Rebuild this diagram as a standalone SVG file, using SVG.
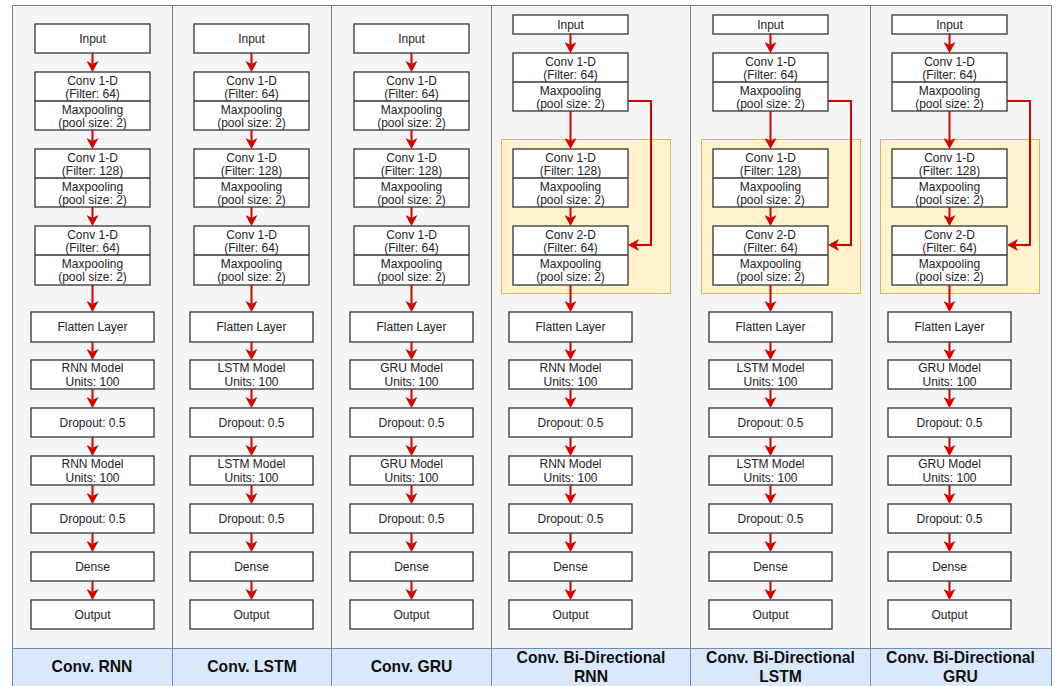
<svg xmlns="http://www.w3.org/2000/svg" width="1057" height="686" viewBox="0 0 1057 686">
<style>
.bg{fill:#ffffff}
.col{fill:#f5f5f5;stroke:#808080;stroke-width:1}
.hdr{fill:#dae8fc;stroke:#6c8ebf;stroke-width:1}
.grp{fill:#fff2cc;stroke:#d6b656;stroke-width:1}
.box{fill:#ffffff;stroke:#333333;stroke-width:1.3}
.div{stroke:#333333;stroke-width:1.3}
.t{font-family:"Liberation Sans",Arial,sans-serif;font-size:12px;fill:#222222;text-anchor:middle}
.h{font-family:"Liberation Sans",Arial,sans-serif;font-size:15.7px;font-weight:bold;fill:#111111;text-anchor:middle}
.a{stroke:#d40000;stroke-width:2;fill:none;marker-end:url(#ah)}
</style>
<defs>
<marker id="ah" markerUnits="userSpaceOnUse" markerWidth="11" markerHeight="12" viewBox="0 0 11 12" refX="3" refY="6" orient="auto"><path d="M0,0 L11,6 L0,12 L3,6 z" fill="#d40000"/></marker>
</defs>
<rect class="bg" x="0" y="0" width="1057" height="686"/>

<g id="columns">
<rect class="col" x="12.5" y="5.5" width="160" height="643"/>
<rect class="col" x="172.5" y="5.5" width="159" height="643"/>
<rect class="col" x="331.5" y="5.5" width="160" height="643"/>
<rect class="col" x="491.5" y="5.5" width="199" height="643"/>
<rect class="col" x="690.5" y="5.5" width="180" height="643"/>
<rect class="col" x="870.5" y="5.5" width="181" height="643"/>
</g>

<g id="headers">
<rect class="hdr" x="12.5" y="648.5" width="160" height="50"/>
<rect class="hdr" x="172.5" y="648.5" width="159" height="50"/>
<rect class="hdr" x="331.5" y="648.5" width="160" height="50"/>
<rect class="hdr" x="491.5" y="648.5" width="199" height="50"/>
<rect class="hdr" x="690.5" y="648.5" width="180" height="50"/>
<rect class="hdr" x="870.5" y="648.5" width="181" height="50"/>
<text class="h" x="92" y="672">Conv. RNN</text>
<text class="h" x="252" y="672">Conv. LSTM</text>
<text class="h" x="411.5" y="672">Conv. GRU</text>
<text class="h" x="591" y="663">Conv. Bi-Directional</text>
<text class="h" x="591" y="682">RNN</text>
<text class="h" x="780.5" y="663">Conv. Bi-Directional</text>
<text class="h" x="780.5" y="682">LSTM</text>
<text class="h" x="960.5" y="663">Conv. Bi-Directional</text>
<text class="h" x="960.5" y="682">GRU</text>
</g>

<g id="groups">
<rect class="grp" x="501.5" y="139.5" width="169" height="154"/>
<rect class="grp" x="701.5" y="139.5" width="159" height="154"/>
<rect class="grp" x="880.5" y="139.5" width="159" height="154"/>
</g>

<!-- Column 1: Conv. RNN -->
<g id="c1-input"><rect class="box" x="35" y="24" width="115" height="29"/><text class="t" x="92.5" y="42.5">Input</text></g>
<g id="c1-conv1"><rect class="box" x="35" y="72" width="115" height="58"/><line class="div" x1="35" y1="101" x2="150" y2="101"/><text class="t" x="92.5" y="85">Conv 1-D</text><text class="t" x="92.5" y="98">(Filter: 64)</text><text class="t" x="92.5" y="114">Maxpooling</text><text class="t" x="92.5" y="127">(pool size: 2)</text></g>
<g id="c1-conv2"><rect class="box" x="35" y="149" width="115" height="58"/><line class="div" x1="35" y1="178" x2="150" y2="178"/><text class="t" x="92.5" y="162">Conv 1-D</text><text class="t" x="92.5" y="175">(Filter: 128)</text><text class="t" x="92.5" y="191">Maxpooling</text><text class="t" x="92.5" y="204">(pool size: 2)</text></g>
<g id="c1-conv3"><rect class="box" x="35" y="226" width="115" height="59"/><line class="div" x1="35" y1="255" x2="150" y2="255"/><text class="t" x="92.5" y="239">Conv 1-D</text><text class="t" x="92.5" y="252">(Filter: 64)</text><text class="t" x="92.5" y="268">Maxpooling</text><text class="t" x="92.5" y="281">(pool size: 2)</text></g>
<g id="c1-flatten"><rect class="box" x="31" y="312" width="123" height="30"/><text class="t" x="92.5" y="331">Flatten Layer</text></g>
<g id="c1-model1"><rect class="box" x="31" y="360" width="123" height="29"/><text class="t" x="92.5" y="372">RNN Model</text><text class="t" x="92.5" y="386">Units: 100</text></g>
<g id="c1-drop1"><rect class="box" x="31" y="408" width="123" height="29"/><text class="t" x="92.5" y="427">Dropout: 0.5</text></g>
<g id="c1-model2"><rect class="box" x="31" y="456" width="123" height="29"/><text class="t" x="92.5" y="468">RNN Model</text><text class="t" x="92.5" y="482">Units: 100</text></g>
<g id="c1-drop2"><rect class="box" x="31" y="504" width="123" height="29"/><text class="t" x="92.5" y="523">Dropout: 0.5</text></g>
<g id="c1-dense"><rect class="box" x="31" y="552" width="123" height="29"/><text class="t" x="92.5" y="571">Dense</text></g>
<g id="c1-output"><rect class="box" x="31" y="600" width="123" height="29"/><text class="t" x="92.5" y="619">Output</text></g>

<!-- Column 2: Conv. LSTM -->
<g id="c2-input"><rect class="box" x="194" y="24" width="115" height="29"/><text class="t" x="251.5" y="42.5">Input</text></g>
<g id="c2-conv1"><rect class="box" x="194" y="72" width="115" height="58"/><line class="div" x1="194" y1="101" x2="309" y2="101"/><text class="t" x="251.5" y="85">Conv 1-D</text><text class="t" x="251.5" y="98">(Filter: 64)</text><text class="t" x="251.5" y="114">Maxpooling</text><text class="t" x="251.5" y="127">(pool size: 2)</text></g>
<g id="c2-conv2"><rect class="box" x="194" y="149" width="115" height="58"/><line class="div" x1="194" y1="178" x2="309" y2="178"/><text class="t" x="251.5" y="162">Conv 1-D</text><text class="t" x="251.5" y="175">(Filter: 128)</text><text class="t" x="251.5" y="191">Maxpooling</text><text class="t" x="251.5" y="204">(pool size: 2)</text></g>
<g id="c2-conv3"><rect class="box" x="194" y="226" width="115" height="59"/><line class="div" x1="194" y1="255" x2="309" y2="255"/><text class="t" x="251.5" y="239">Conv 1-D</text><text class="t" x="251.5" y="252">(Filter: 64)</text><text class="t" x="251.5" y="268">Maxpooling</text><text class="t" x="251.5" y="281">(pool size: 2)</text></g>
<g id="c2-flatten"><rect class="box" x="190" y="312" width="123" height="30"/><text class="t" x="251.5" y="331">Flatten Layer</text></g>
<g id="c2-model1"><rect class="box" x="190" y="360" width="123" height="29"/><text class="t" x="251.5" y="372">LSTM Model</text><text class="t" x="251.5" y="386">Units: 100</text></g>
<g id="c2-drop1"><rect class="box" x="190" y="408" width="123" height="29"/><text class="t" x="251.5" y="427">Dropout: 0.5</text></g>
<g id="c2-model2"><rect class="box" x="190" y="456" width="123" height="29"/><text class="t" x="251.5" y="468">LSTM Model</text><text class="t" x="251.5" y="482">Units: 100</text></g>
<g id="c2-drop2"><rect class="box" x="190" y="504" width="123" height="29"/><text class="t" x="251.5" y="523">Dropout: 0.5</text></g>
<g id="c2-dense"><rect class="box" x="190" y="552" width="123" height="29"/><text class="t" x="251.5" y="571">Dense</text></g>
<g id="c2-output"><rect class="box" x="190" y="600" width="123" height="29"/><text class="t" x="251.5" y="619">Output</text></g>

<!-- Column 3: Conv. GRU -->
<g id="c3-input"><rect class="box" x="354" y="24" width="115" height="29"/><text class="t" x="411.5" y="42.5">Input</text></g>
<g id="c3-conv1"><rect class="box" x="354" y="72" width="115" height="58"/><line class="div" x1="354" y1="101" x2="469" y2="101"/><text class="t" x="411.5" y="85">Conv 1-D</text><text class="t" x="411.5" y="98">(Filter: 64)</text><text class="t" x="411.5" y="114">Maxpooling</text><text class="t" x="411.5" y="127">(pool size: 2)</text></g>
<g id="c3-conv2"><rect class="box" x="354" y="149" width="115" height="58"/><line class="div" x1="354" y1="178" x2="469" y2="178"/><text class="t" x="411.5" y="162">Conv 1-D</text><text class="t" x="411.5" y="175">(Filter: 128)</text><text class="t" x="411.5" y="191">Maxpooling</text><text class="t" x="411.5" y="204">(pool size: 2)</text></g>
<g id="c3-conv3"><rect class="box" x="354" y="226" width="115" height="59"/><line class="div" x1="354" y1="255" x2="469" y2="255"/><text class="t" x="411.5" y="239">Conv 1-D</text><text class="t" x="411.5" y="252">(Filter: 64)</text><text class="t" x="411.5" y="268">Maxpooling</text><text class="t" x="411.5" y="281">(pool size: 2)</text></g>
<g id="c3-flatten"><rect class="box" x="350" y="312" width="123" height="30"/><text class="t" x="411.5" y="331">Flatten Layer</text></g>
<g id="c3-model1"><rect class="box" x="350" y="360" width="123" height="29"/><text class="t" x="411.5" y="372">GRU Model</text><text class="t" x="411.5" y="386">Units: 100</text></g>
<g id="c3-drop1"><rect class="box" x="350" y="408" width="123" height="29"/><text class="t" x="411.5" y="427">Dropout: 0.5</text></g>
<g id="c3-model2"><rect class="box" x="350" y="456" width="123" height="29"/><text class="t" x="411.5" y="468">GRU Model</text><text class="t" x="411.5" y="482">Units: 100</text></g>
<g id="c3-drop2"><rect class="box" x="350" y="504" width="123" height="29"/><text class="t" x="411.5" y="523">Dropout: 0.5</text></g>
<g id="c3-dense"><rect class="box" x="350" y="552" width="123" height="29"/><text class="t" x="411.5" y="571">Dense</text></g>
<g id="c3-output"><rect class="box" x="350" y="600" width="123" height="29"/><text class="t" x="411.5" y="619">Output</text></g>

<!-- Column 4: Conv. Bi-Directional RNN -->
<g id="c4-input"><rect class="box" x="513" y="15" width="115" height="19"/><text class="t" x="570.5" y="29">Input</text></g>
<g id="c4-conv1"><rect class="box" x="513" y="53" width="115" height="58"/><line class="div" x1="513" y1="82" x2="628" y2="82"/><text class="t" x="570.5" y="66">Conv 1-D</text><text class="t" x="570.5" y="79">(Filter: 64)</text><text class="t" x="570.5" y="95">Maxpooling</text><text class="t" x="570.5" y="108">(pool size: 2)</text></g>
<g id="c4-conv2"><rect class="box" x="513" y="149" width="115" height="58"/><line class="div" x1="513" y1="178" x2="628" y2="178"/><text class="t" x="570.5" y="162">Conv 1-D</text><text class="t" x="570.5" y="175">(Filter: 128)</text><text class="t" x="570.5" y="191">Maxpooling</text><text class="t" x="570.5" y="204">(pool size: 2)</text></g>
<g id="c4-conv3"><rect class="box" x="513" y="226" width="115" height="59"/><line class="div" x1="513" y1="255" x2="628" y2="255"/><text class="t" x="570.5" y="239">Conv 2-D</text><text class="t" x="570.5" y="252">(Filter: 64)</text><text class="t" x="570.5" y="268">Maxpooling</text><text class="t" x="570.5" y="281">(pool size: 2)</text></g>
<g id="c4-flatten"><rect class="box" x="509" y="312" width="123" height="30"/><text class="t" x="570.5" y="331">Flatten Layer</text></g>
<g id="c4-model1"><rect class="box" x="509" y="360" width="123" height="29"/><text class="t" x="570.5" y="372">RNN Model</text><text class="t" x="570.5" y="386">Units: 100</text></g>
<g id="c4-drop1"><rect class="box" x="509" y="408" width="123" height="29"/><text class="t" x="570.5" y="427">Dropout: 0.5</text></g>
<g id="c4-model2"><rect class="box" x="509" y="456" width="123" height="29"/><text class="t" x="570.5" y="468">RNN Model</text><text class="t" x="570.5" y="482">Units: 100</text></g>
<g id="c4-drop2"><rect class="box" x="509" y="504" width="123" height="29"/><text class="t" x="570.5" y="523">Dropout: 0.5</text></g>
<g id="c4-dense"><rect class="box" x="509" y="552" width="123" height="29"/><text class="t" x="570.5" y="571">Dense</text></g>
<g id="c4-output"><rect class="box" x="509" y="600" width="123" height="29"/><text class="t" x="570.5" y="619">Output</text></g>

<!-- Column 5: Conv. Bi-Directional LSTM -->
<g id="c5-input"><rect class="box" x="713" y="15" width="115" height="19"/><text class="t" x="770.5" y="29">Input</text></g>
<g id="c5-conv1"><rect class="box" x="713" y="53" width="115" height="58"/><line class="div" x1="713" y1="82" x2="828" y2="82"/><text class="t" x="770.5" y="66">Conv 1-D</text><text class="t" x="770.5" y="79">(Filter: 64)</text><text class="t" x="770.5" y="95">Maxpooling</text><text class="t" x="770.5" y="108">(pool size: 2)</text></g>
<g id="c5-conv2"><rect class="box" x="713" y="149" width="115" height="58"/><line class="div" x1="713" y1="178" x2="828" y2="178"/><text class="t" x="770.5" y="162">Conv 1-D</text><text class="t" x="770.5" y="175">(Filter: 128)</text><text class="t" x="770.5" y="191">Maxpooling</text><text class="t" x="770.5" y="204">(pool size: 2)</text></g>
<g id="c5-conv3"><rect class="box" x="713" y="226" width="115" height="59"/><line class="div" x1="713" y1="255" x2="828" y2="255"/><text class="t" x="770.5" y="239">Conv 2-D</text><text class="t" x="770.5" y="252">(Filter: 64)</text><text class="t" x="770.5" y="268">Maxpooling</text><text class="t" x="770.5" y="281">(pool size: 2)</text></g>
<g id="c5-flatten"><rect class="box" x="709" y="312" width="123" height="30"/><text class="t" x="770.5" y="331">Flatten Layer</text></g>
<g id="c5-model1"><rect class="box" x="709" y="360" width="123" height="29"/><text class="t" x="770.5" y="372">LSTM Model</text><text class="t" x="770.5" y="386">Units: 100</text></g>
<g id="c5-drop1"><rect class="box" x="709" y="408" width="123" height="29"/><text class="t" x="770.5" y="427">Dropout: 0.5</text></g>
<g id="c5-model2"><rect class="box" x="709" y="456" width="123" height="29"/><text class="t" x="770.5" y="468">LSTM Model</text><text class="t" x="770.5" y="482">Units: 100</text></g>
<g id="c5-drop2"><rect class="box" x="709" y="504" width="123" height="29"/><text class="t" x="770.5" y="523">Dropout: 0.5</text></g>
<g id="c5-dense"><rect class="box" x="709" y="552" width="123" height="29"/><text class="t" x="770.5" y="571">Dense</text></g>
<g id="c5-output"><rect class="box" x="709" y="600" width="123" height="29"/><text class="t" x="770.5" y="619">Output</text></g>

<!-- Column 6: Conv. Bi-Directional GRU -->
<g id="c6-input"><rect class="box" x="892" y="15" width="115" height="19"/><text class="t" x="949.5" y="29">Input</text></g>
<g id="c6-conv1"><rect class="box" x="892" y="53" width="115" height="58"/><line class="div" x1="892" y1="82" x2="1007" y2="82"/><text class="t" x="949.5" y="66">Conv 1-D</text><text class="t" x="949.5" y="79">(Filter: 64)</text><text class="t" x="949.5" y="95">Maxpooling</text><text class="t" x="949.5" y="108">(pool size: 2)</text></g>
<g id="c6-conv2"><rect class="box" x="892" y="149" width="115" height="58"/><line class="div" x1="892" y1="178" x2="1007" y2="178"/><text class="t" x="949.5" y="162">Conv 1-D</text><text class="t" x="949.5" y="175">(Filter: 128)</text><text class="t" x="949.5" y="191">Maxpooling</text><text class="t" x="949.5" y="204">(pool size: 2)</text></g>
<g id="c6-conv3"><rect class="box" x="892" y="226" width="115" height="59"/><line class="div" x1="892" y1="255" x2="1007" y2="255"/><text class="t" x="949.5" y="239">Conv 2-D</text><text class="t" x="949.5" y="252">(Filter: 64)</text><text class="t" x="949.5" y="268">Maxpooling</text><text class="t" x="949.5" y="281">(pool size: 2)</text></g>
<g id="c6-flatten"><rect class="box" x="888" y="312" width="123" height="30"/><text class="t" x="949.5" y="331">Flatten Layer</text></g>
<g id="c6-model1"><rect class="box" x="888" y="360" width="123" height="29"/><text class="t" x="949.5" y="372">GRU Model</text><text class="t" x="949.5" y="386">Units: 100</text></g>
<g id="c6-drop1"><rect class="box" x="888" y="408" width="123" height="29"/><text class="t" x="949.5" y="427">Dropout: 0.5</text></g>
<g id="c6-model2"><rect class="box" x="888" y="456" width="123" height="29"/><text class="t" x="949.5" y="468">GRU Model</text><text class="t" x="949.5" y="482">Units: 100</text></g>
<g id="c6-drop2"><rect class="box" x="888" y="504" width="123" height="29"/><text class="t" x="949.5" y="523">Dropout: 0.5</text></g>
<g id="c6-dense"><rect class="box" x="888" y="552" width="123" height="29"/><text class="t" x="949.5" y="571">Dense</text></g>
<g id="c6-output"><rect class="box" x="888" y="600" width="123" height="29"/><text class="t" x="949.5" y="619">Output</text></g>

<g id="connectors">
<path class="a" d="M92.5,53 V64"/><path class="a" d="M92.5,130 V141"/><path class="a" d="M92.5,207 V218"/><path class="a" d="M92.5,285 V304"/><path class="a" d="M92.5,342 V352"/><path class="a" d="M92.5,389 V400"/><path class="a" d="M92.5,437 V448"/><path class="a" d="M92.5,485 V496"/><path class="a" d="M92.5,533 V544"/><path class="a" d="M92.5,581 V592"/>
<path class="a" d="M251.5,53 V64"/><path class="a" d="M251.5,130 V141"/><path class="a" d="M251.5,207 V218"/><path class="a" d="M251.5,285 V304"/><path class="a" d="M251.5,342 V352"/><path class="a" d="M251.5,389 V400"/><path class="a" d="M251.5,437 V448"/><path class="a" d="M251.5,485 V496"/><path class="a" d="M251.5,533 V544"/><path class="a" d="M251.5,581 V592"/>
<path class="a" d="M411.5,53 V64"/><path class="a" d="M411.5,130 V141"/><path class="a" d="M411.5,207 V218"/><path class="a" d="M411.5,285 V304"/><path class="a" d="M411.5,342 V352"/><path class="a" d="M411.5,389 V400"/><path class="a" d="M411.5,437 V448"/><path class="a" d="M411.5,485 V496"/><path class="a" d="M411.5,533 V544"/><path class="a" d="M411.5,581 V592"/>
<path class="a" d="M570.5,34 V45"/><path class="a" d="M570.5,111 V141"/><path class="a" d="M570.5,207 V218"/><path class="a" d="M570.5,285 V304"/><path class="a" d="M570.5,342 V352"/><path class="a" d="M570.5,389 V400"/><path class="a" d="M570.5,437 V448"/><path class="a" d="M570.5,485 V496"/><path class="a" d="M570.5,533 V544"/><path class="a" d="M570.5,581 V592"/>
<path class="a" d="M628,101 H651 V245 H636"/>
<path class="a" d="M770.5,34 V45"/><path class="a" d="M770.5,111 V141"/><path class="a" d="M770.5,207 V218"/><path class="a" d="M770.5,285 V304"/><path class="a" d="M770.5,342 V352"/><path class="a" d="M770.5,389 V400"/><path class="a" d="M770.5,437 V448"/><path class="a" d="M770.5,485 V496"/><path class="a" d="M770.5,533 V544"/><path class="a" d="M770.5,581 V592"/>
<path class="a" d="M828,101 H851 V245 H836"/>
<path class="a" d="M949.5,34 V45"/><path class="a" d="M949.5,111 V141"/><path class="a" d="M949.5,207 V218"/><path class="a" d="M949.5,285 V304"/><path class="a" d="M949.5,342 V352"/><path class="a" d="M949.5,389 V400"/><path class="a" d="M949.5,437 V448"/><path class="a" d="M949.5,485 V496"/><path class="a" d="M949.5,533 V544"/><path class="a" d="M949.5,581 V592"/>
<path class="a" d="M1007,101 H1030 V245 H1015"/>
</g>
</svg>
